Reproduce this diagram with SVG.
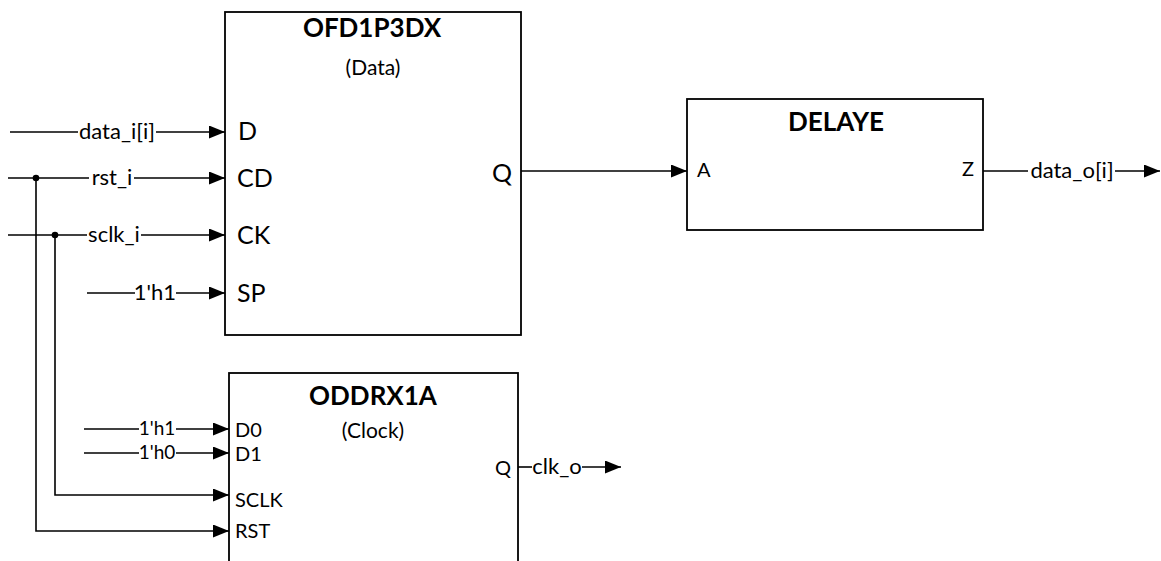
<svg xmlns="http://www.w3.org/2000/svg" width="1161" height="561" viewBox="0 0 1161 561">
<defs>
<marker id="arr" markerUnits="userSpaceOnUse" markerWidth="18" markerHeight="14" refX="16" refY="6.5" orient="auto">
<path d="M0 0 L16 6.5 L0 13 Z" fill="#000"/>
</marker>
</defs>
<style>
.w{stroke:#000;stroke-width:1.6;fill:none}
.box{fill:#fff;stroke:#000;stroke-width:1.8}
text{font-family:Lato,"Liberation Sans",sans-serif;fill:#000}
.lbl{font-size:22px;text-anchor:middle}
.lbs{font-size:19px;text-anchor:middle}
.pin{font-size:25px}
.pins{font-size:20px}
.title{font-size:26px;font-weight:bold;text-anchor:middle}
.sub{font-size:21px;text-anchor:middle}
</style>
<rect width="1161" height="561" fill="#fff"/>
<g id="OFD1P3DX">
<rect class="box" x="225" y="12" width="296" height="323"/>
<text class="title" x="372" y="37">OFD1P3DX</text>
<text class="sub" x="373" y="75">(Data)</text>
<text class="pin" x="238" y="140">D</text>
<text class="pin" x="237" y="187">CD</text>
<text class="pin" x="237" y="244">CK</text>
<text class="pin" x="237" y="302">SP</text>
<text class="pin" x="492" y="182">Q</text>
</g>
<g id="DELAYE">
<rect class="box" x="687" y="99" width="296" height="131"/>
<text class="title" x="836" y="131">DELAYE</text>
<text class="pins" x="697" y="177">A</text>
<text class="pins" x="962" y="176">Z</text>
</g>
<g id="ODDRX1A">
<rect class="box" x="229" y="373" width="289" height="200"/>
<text class="title" x="373" y="405">ODDRX1A</text>
<text class="sub" x="373" y="438">(Clock)</text>
<text class="pins" x="235" y="437">D0</text>
<text class="pins" x="235" y="461">D1</text>
<text class="pins" x="235" y="507">SCLK</text>
<text class="pins" x="235" y="538">RST</text>
<text class="pins" x="495" y="475">Q</text>
</g>
<g id="connectors">
<line class="w" x1="10" y1="132" x2="78" y2="132"/>
<line class="w" x1="156" y1="132" x2="225" y2="132" marker-end="url(#arr)"/>
<text class="lbl" x="117" y="139">data_i[i]</text>
<line class="w" x1="8" y1="178" x2="89" y2="178"/>
<line class="w" x1="134" y1="178" x2="225" y2="178" marker-end="url(#arr)"/>
<text class="lbl" x="112" y="185">rst_i</text>
<line class="w" x1="8" y1="235" x2="87" y2="235"/>
<line class="w" x1="141" y1="235" x2="225" y2="235" marker-end="url(#arr)"/>
<text class="lbl" x="114" y="242">sclk_i</text>
<line class="w" x1="87" y1="293" x2="135" y2="293"/>
<line class="w" x1="176" y1="293" x2="225" y2="293" marker-end="url(#arr)"/>
<text class="lbl" x="155" y="300">1'h1</text>
<circle cx="36" cy="178" r="3.3" fill="#000"/>
<circle cx="55" cy="235" r="3.3" fill="#000"/>
<path class="w" d="M36 178 V531 H229" marker-end="url(#arr)"/>
<path class="w" d="M55 235 V495 H229" marker-end="url(#arr)"/>
<line class="w" x1="84" y1="429" x2="139" y2="429"/>
<line class="w" x1="176" y1="429" x2="229" y2="429" marker-end="url(#arr)"/>
<text class="lbs" x="157" y="435">1'h1</text>
<line class="w" x1="84" y1="453" x2="139" y2="453"/>
<line class="w" x1="176" y1="453" x2="229" y2="453" marker-end="url(#arr)"/>
<text class="lbs" x="157" y="459">1'h0</text>
<line class="w" x1="521" y1="171" x2="687" y2="171" marker-end="url(#arr)"/>
<line class="w" x1="983" y1="171" x2="1028" y2="171"/>
<line class="w" x1="1115" y1="171" x2="1160" y2="171" marker-end="url(#arr)"/>
<text class="lbl" x="1072" y="178">data_o[i]</text>
<line class="w" x1="518" y1="467" x2="532" y2="467"/>
<line class="w" x1="582" y1="467" x2="621" y2="467" marker-end="url(#arr)"/>
<text class="lbl" x="557" y="474">clk_o</text>
</g>
</svg>
